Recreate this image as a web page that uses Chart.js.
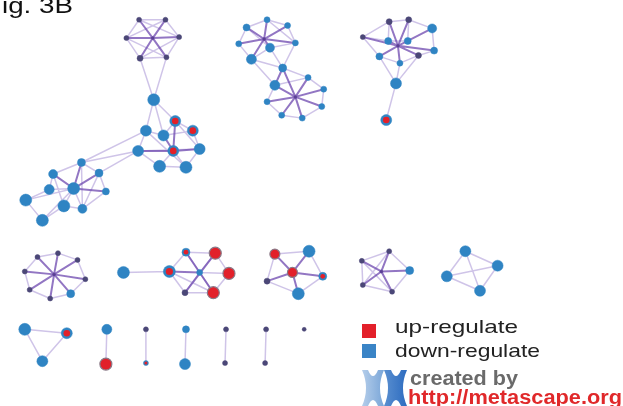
<!DOCTYPE html>
<html>
<head>
<meta charset="utf-8">
<script src="https://cdn.jsdelivr.net/npm/chart.js@4"></script>
<style>
html,body{margin:0;padding:0;background:#fff;}
#wrap{position:relative;width:623px;height:406px;overflow:hidden;}
#c{position:absolute;left:0;top:0;}
#ov{position:absolute;left:0;top:0;}
</style>
</head>
<body>
<div id="wrap">
<canvas id="c" width="623" height="406"></canvas>
<svg id="ov" width="623" height="406" xmlns="http://www.w3.org/2000/svg">
  <defs>
    <linearGradient id="g1" x1="0" y1="0" x2="1" y2="0">
      <stop offset="0" stop-color="#b4cdea"/>
      <stop offset="1" stop-color="#7aa6d8"/>
    </linearGradient>
    <linearGradient id="g2" x1="0" y1="0" x2="1" y2="0">
      <stop offset="0" stop-color="#5a8fd0"/>
      <stop offset="1" stop-color="#2d6cc0"/>
    </linearGradient>
  </defs>
  <text x="2" y="13" font-family="Liberation Sans, Arial, sans-serif" font-size="22" fill="#111" textLength="71" lengthAdjust="spacingAndGlyphs">ig. 3B</text>
  <rect x="362" y="324" width="14" height="14" fill="#e3202a"/>
  <rect x="362" y="344" width="14" height="14" fill="#3a84c6"/>
  <text x="395" y="333" font-family="Liberation Sans, Arial, sans-serif" font-size="19" fill="#222" textLength="123" lengthAdjust="spacingAndGlyphs">up-regulate</text>
  <text x="395" y="357" font-family="Liberation Sans, Arial, sans-serif" font-size="19" fill="#222" textLength="145" lengthAdjust="spacingAndGlyphs">down-regulate</text>
  <path d="M362 370 L368 370 Q373 382 378 370 L384 370 Q376 388 384 406 L378 406 Q373 394 368 406 L362 406 Q370 388 362 370 Z" fill="url(#g1)"/>
  <path d="M384 370 L391 370 Q396 382 401 370 L407 370 Q399 388 407 406 L401 406 Q396 394 391 406 L384 406 Q392 388 384 370 Z" fill="url(#g2)"/>
  <text x="410" y="385" font-family="Liberation Sans, Arial, sans-serif" font-size="20" font-weight="bold" fill="#6a6a6a" textLength="108" lengthAdjust="spacingAndGlyphs">created by</text>
  <text x="408" y="404" font-family="Liberation Sans, Arial, sans-serif" font-size="20" font-weight="bold" fill="#e0282a" textLength="214" lengthAdjust="spacingAndGlyphs">http://metascape.org</text>
</svg>
</div>
<script>
// Node positions (layout coordinates) and attributes
const nodeX = [135,162,122,176,136,163,150,172,190,142,160,134,170,197,156,183,76,94,47,43,68,101,19,58,77,36,245,266,287,237,295,269,250,282,274,308,324,266,322,281,302,391,411,435,364,390,410,381,421,437,402,398,388,31,52,72,18,80,23,44,65,119,166,183,213,197,227,182,211,274,309,292,323,266,298,363,391,412,364,394,469,502,450,484,18,61,36,102,101,142,142,183,182,224,223,265,264,304,149,263,295,400,48,383];
const nodeY = [13,13,32,31,53,52,96,118,128,128,133,149,149,147,165,166,161,172,173,189,188,191,200,206,209,221,21,13,19,38,37,42,54,63,81,73,85,98,103,112,115,15,13,22,31,35,35,51,50,45,58,79,117,259,255,262,274,282,293,302,297,275,274,254,255,275,276,296,296,256,253,275,279,284,297,263,253,273,288,295,253,268,279,294,334,338,367,334,370,334,369,334,370,334,369,334,369,334,32,33,93,40,277,274];
const nodeKind = ['d','d','d','d','d','d','b','m','m','b','b','b','m','b','b','b','b','b','b','b','b','b','b','b','b','b','b','b','b','b','b','b','b','b','b','b','b','b','b','b','b','d','d','b','d','b','b','b','d','b','b','b','m','d','d','d','d','d','d','d','b','b','m','m','r','b','r','d','r','r','b','r','m','d','b','d','d','b','d','d','b','b','b','b','b','m','b','b','r','d','m','b','b','d','d','d','d','d','h','h','h','h','h','h'];
const nodeSize = [2.5,2.5,2.5,2.5,3,2.5,6,5.5,5.5,5.5,5.5,5.5,5.5,5.5,6,6,4,4,4.5,5,6,3.5,6,6,4.5,6,3.5,3,3,3,3,4.5,5,4,5,3,3,3,3,3,3,3,3,4.5,2.5,3.5,3.5,3.5,3,3.5,3,5.5,5.5,2.5,2.5,2.5,2.5,2.5,2.5,2.5,4,6,6,4,6,3,6,3,6,5,6,5,4,3,6,2.5,2.5,4,2.5,2.5,5.5,5.5,5.5,5.5,6,5.5,5.5,5,6,2.5,2.5,3.5,5.5,2.5,2.5,2.5,2.5,2,1.5,1.5,1.5,1.5,1.5,1.5];

const strongEdges = [
 [98,0],[98,1],[98,2],[98,3],[98,4],[98,5],
 [12,7],[12,11],[12,13],[12,10],
 [20,16],[20,21],[20,17],[20,18],
 [99,26],[99,27],[99,28],[99,29],[99,30],[99,31],[99,32],
 [100,33],[100,34],[100,35],[100,36],[100,37],[100,38],[100,39],[100,40],[33,34],
 [101,41],[101,42],[101,43],[101,44],[101,45],[101,46],[101,47],[101,48],[101,49],[101,50],
 [102,53],[102,54],[102,55],[102,56],[102,57],[102,58],[102,59],[102,60],
 [65,62],[63,68],[64,67],
 [71,69],[71,70],[71,72],[71,73],[71,74],
 [103,75],[103,76],[103,77],[103,78],[103,79]
];
const weakEdges = [
 [0,1],[1,3],[3,5],[5,4],[4,2],[2,0],[0,3],[1,2],[2,5],[3,4],[4,6],[5,6],
 [6,7],[6,9],[6,10],[7,8],[9,10],[10,7],[9,11],[11,14],[14,15],[15,13],[13,8],[12,14],[12,15],[10,8],[9,15],[11,13],[7,13],
 [11,16],[11,17],[9,16],
 [16,17],[17,21],[21,24],[24,23],[23,25],[25,22],[22,19],[19,18],[18,16],[20,19],[20,22],[20,23],[20,24],[20,25],[18,23],[16,24],[17,24],
 [29,26],[26,27],[27,28],[28,30],[30,31],[31,32],[32,29],[26,31],[27,30],
 [31,33],[32,33],[30,33],[32,34],
 [34,35],[35,36],[36,38],[38,40],[40,39],[39,37],[37,34],[33,35],
 [44,41],[41,42],[42,43],[43,49],[49,48],[48,50],[50,47],[47,44],[45,46],[45,41],[46,42],[44,45],
 [50,51],[47,51],[48,51],[51,52],
 [56,53],[53,54],[54,55],[55,57],[57,60],[60,59],[59,58],[58,56],
 [61,62],[62,63],[63,64],[64,66],[66,68],[68,67],[67,62],[65,63],[65,64],[65,66],[65,67],[65,68],[62,68],
 [69,70],[70,72],[72,74],[74,73],[73,69],
 [75,76],[76,77],[77,79],[79,78],[78,75],[75,79],[76,78],
 [80,81],[80,82],[80,83],[81,82],[81,83],[82,83],
 [84,85],[85,86],[84,86],[87,88],[89,90],[91,92],[93,94],[95,96]
];

const kindFill = {d:'#4b4777', b:'#2f84c3', r:'#e2202a', m:'#2f84c3', h:'#5b3f95'};
const kindBorder = {d:'#4b4777', b:'#2f84c3', r:'#8a7a88', m:'#2f84c3', h:'#5b3f95'};

function edgePoints(list){
  const pts = [];
  list.forEach(([a,b])=>{
    pts.push({x:nodeX[a],y:nodeY[a]});
    pts.push({x:nodeX[b],y:nodeY[b]});
    pts.push({x:null,y:null});
  });
  return pts;
}
const nodePts = nodeX.map((x,i)=>({x:x,y:nodeY[i]}));
const mixedIdx = nodeKind.map((k,i)=>k==='m'?i:-1).filter(i=>i>=0);

new Chart(document.getElementById('c'), {
  type: 'scatter',
  data: {
    datasets: [
      {
        data: mixedIdx.map(i=>({x:nodeX[i],y:nodeY[i]})),
        pointRadius: mixedIdx.map(i=>nodeSize[i]*0.6),
        pointBackgroundColor: '#e2202a',
        pointBorderWidth: 0,
        showLine: false,
        order: 0
      },
      {
        data: nodePts,
        pointRadius: nodeSize,
        pointBackgroundColor: nodeKind.map(k=>kindFill[k]),
        pointBorderColor: nodeKind.map(k=>kindBorder[k]),
        pointBorderWidth: nodeKind.map(k=>k==='r'?1.2:0.5),
        showLine: false,
        order: 1
      },
      {
        data: edgePoints(strongEdges),
        showLine: true,
        spanGaps: false,
        borderColor: 'rgba(110,72,175,0.75)',
        borderWidth: 2,
        pointRadius: 0,
        tension: 0,
        order: 2
      },
      {
        data: edgePoints(weakEdges),
        showLine: true,
        spanGaps: false,
        borderColor: 'rgba(168,148,214,0.55)',
        borderWidth: 1.5,
        pointRadius: 0,
        tension: 0,
        order: 3
      }
    ]
  },
  options: {
    responsive: false,
    animation: false,
    events: [],
    layout: {padding: 0},
    plugins: {legend: {display: false}, tooltip: {enabled: false}},
    scales: {
      x: {type: 'linear', min: 0, max: 623, display: false},
      y: {type: 'linear', min: 0, max: 406, reverse: true, display: false}
    }
  }
});
</script>
</body>
</html>
